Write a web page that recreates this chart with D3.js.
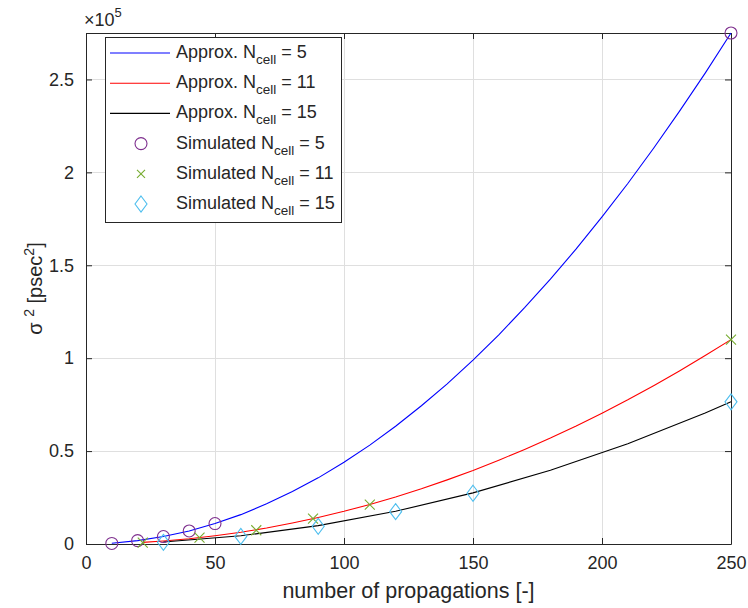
<!DOCTYPE html>
<html lang="en">
<head>
<meta charset="UTF-8">
<title>sigma squared vs propagations</title>
<script src="https://d3js.org/d3.v7.min.js"></script>
<style>
  body { margin: 0; background: #fff; }
  text { font-family: "Liberation Sans", Arial, sans-serif; fill: #262626; }
</style>
</head>
<body>
<svg width="748" height="608"></svg>
<script>
// tick values / labels
var xTicks = [0, 50, 100, 150, 200, 250];
var yTicks = [0, 50000, 100000, 150000, 200000, 250000];
var yTickLabels = ["0", "0.5", "1", "1.5", "2", "2.5"];

// approximation curves
var approxX5 = [10, 20, 30, 40, 50, 60, 70, 80, 90, 100, 110, 120, 130, 140, 150, 160, 170, 180, 190, 200, 210, 220, 230, 240, 250];
var approxY5 = [400, 1800, 4000, 7000, 11000, 15800, 21600, 28200, 35600, 44000, 53200, 63400, 74400, 86200, 99000, 112600, 127200, 142600, 158800, 176000, 194000, 213000, 232800, 253400, 275000];
var approxX11 = [22, 30, 40, 50, 60, 70, 80, 90, 100, 110, 120, 130, 140, 150, 160, 170, 180, 190, 200, 210, 220, 230, 240, 250];
var approxY11 = [850, 1600, 2800, 4400, 6300, 8600, 11300, 14300, 17600, 21300, 25300, 29700, 34500, 39600, 45100, 50900, 57000, 63500, 70400, 77600, 85200, 93100, 101400, 110000];
var approxX15 = [30, 60, 90, 120, 150, 180, 210, 240, 250];
var approxY15 = [1100, 4400, 9900, 17600, 27500, 39700, 54000, 70500, 76500];

// simulated points
var simX5 = [10, 20, 30, 40, 50, 250];
var simY5 = [300, 1800, 4000, 7000, 11000, 275000];
var simX11 = [22, 44, 66, 88, 110, 250];
var simY11 = [700, 3400, 7400, 13700, 21200, 110000];
var simX15 = [30, 60, 90, 120, 150, 250];
var simY15 = [900, 4100, 9500, 17400, 27300, 76500];

var legendLabels = [
  ["Approx. N", "cell", " = 5"],
  ["Approx. N", "cell", " = 11"],
  ["Approx. N", "cell", " = 15"],
  ["Simulated N", "cell", " = 5"],
  ["Simulated N", "cell", " = 11"],
  ["Simulated N", "cell", " = 15"]
];

var svg = d3.select("svg");
var plotL = 86, plotR = 731, plotT = 33, plotB = 544;

var x = d3.scaleLinear().domain([0, 250]).range([plotL, plotR]);
var y = d3.scaleLinear().domain([0, 275000]).range([plotB, plotT]);

// grid
var grid = svg.append("g").attr("stroke", "#dfdfdf").attr("stroke-width", 1);
grid.selectAll(".gx").data(xTicks.slice(1, -1)).enter().append("line")
  .attr("x1", d => x(d) + 0.5).attr("x2", d => x(d) + 0.5)
  .attr("y1", plotT).attr("y2", plotB);
grid.selectAll(".gy").data(yTicks.slice(1)).enter().append("line")
  .attr("x1", plotL).attr("x2", plotR)
  .attr("y1", d => Math.round(y(d)) + 0.5).attr("y2", d => Math.round(y(d)) + 0.5);

// axes (box with ticks on all four sides)
function styleAxis(g) {
  g.select(".domain").attr("stroke", "#262626");
  g.selectAll(".tick line").attr("stroke", "#262626");
  g.selectAll(".tick text").style("font-size", "18px").attr("fill", "#262626");
}
svg.append("g").attr("transform", "translate(0," + plotB + ")")
  .call(d3.axisBottom(x).tickValues(xTicks).tickSizeInner(-6).tickSizeOuter(0).tickPadding(12))
  .call(styleAxis);
svg.append("g").attr("transform", "translate(0," + plotT + ")")
  .call(d3.axisTop(x).tickValues(xTicks).tickSizeInner(-6).tickSizeOuter(0).tickFormat(""))
  .call(styleAxis);
svg.append("g").attr("transform", "translate(" + plotL + ",0)")
  .call(d3.axisLeft(y).tickValues(yTicks).tickSizeInner(-6).tickSizeOuter(0).tickPadding(12)
    .tickFormat((d, i) => yTickLabels[i]))
  .call(styleAxis);
svg.append("g").attr("transform", "translate(" + plotR + ",0)")
  .call(d3.axisRight(y).tickValues(yTicks).tickSizeInner(-6).tickSizeOuter(0).tickFormat(""))
  .call(styleAxis);

// exponent label
var ex = svg.append("text").attr("x", 84).attr("y", 26).style("font-size", "18px");
ex.append("tspan").text("\u00d710");
ex.append("tspan").attr("dy", -9).style("font-size", "13px").text("5");

// lines
var line = d3.line().x(d => x(d[0])).y(d => y(d[1]));
var curves = [
  [approxX5, approxY5, "#0000ff"],
  [approxX11, approxY11, "#ff0000"],
  [approxX15, approxY15, "#000000"]
];
curves.forEach(function(c) {
  svg.append("path")
    .datum(d3.zip(c[0], c[1]))
    .attr("fill", "none").attr("stroke", c[2]).attr("stroke-width", 1.1)
    .attr("d", line);
});

// markers
svg.append("g").selectAll("circle").data(d3.zip(simX5, simY5)).enter().append("circle")
  .attr("cx", d => x(d[0])).attr("cy", d => y(d[1])).attr("r", 6)
  .attr("fill", "none").attr("stroke", "#7e2f8e").attr("stroke-width", 1.1);
svg.append("g").selectAll("path").data(d3.zip(simX11, simY11)).enter().append("path")
  .attr("transform", d => "translate(" + x(d[0]) + "," + y(d[1]) + ")")
  .attr("d", "M-5,-5L5,5M-5,5L5,-5")
  .attr("fill", "none").attr("stroke", "#77ac30").attr("stroke-width", 1.1);
svg.append("g").selectAll("path").data(d3.zip(simX15, simY15)).enter().append("path")
  .attr("transform", d => "translate(" + x(d[0]) + "," + y(d[1]) + ")")
  .attr("d", "M0,-8L6,0L0,8L-6,0Z")
  .attr("fill", "none").attr("stroke", "#4dbeee").attr("stroke-width", 1.1);

// axis labels
svg.append("text").attr("x", (plotL + plotR) / 2).attr("y", 598)
  .attr("text-anchor", "middle").style("font-size", "21.5px")
  .text("number of propagations [-]");
var yl = svg.append("text").attr("transform", "translate(42," + ((plotT + plotB) / 2) + ") rotate(-90)")
  .attr("text-anchor", "middle").style("font-size", "20px");
yl.append("tspan").text("\u03c3 ");
yl.append("tspan").attr("dy", -8).style("font-size", "14px").text("2");
yl.append("tspan").attr("dy", 8).text(" [psec");
yl.append("tspan").attr("dy", -8).style("font-size", "14px").text("2");
yl.append("tspan").attr("dy", 8).text("]");

// legend
var lg = svg.append("g");
lg.append("rect").attr("x", 105.5).attr("y", 37.5).attr("width", 236).attr("height", 185)
  .attr("fill", "#fff").attr("stroke", "#262626").attr("stroke-width", 1);
var rowY = d3.scalePoint().domain(d3.range(6)).range([53, 204]);
var colors = ["#0000ff", "#ff0000", "#000000"];
legendLabels.forEach(function(lab, i) {
  var cy = rowY(i);
  if (i < 3) {
    lg.append("line").attr("x1", 110).attr("x2", 170).attr("y1", cy).attr("y2", cy)
      .attr("stroke", colors[i]).attr("stroke-width", 1.1);
  } else if (i === 3) {
    lg.append("circle").attr("cx", 141).attr("cy", cy).attr("r", 6)
      .attr("fill", "none").attr("stroke", "#7e2f8e").attr("stroke-width", 1.1);
  } else if (i === 4) {
    lg.append("path").attr("transform", "translate(141," + cy + ")").attr("d", "M-4,-4L4,4M-4,4L4,-4")
      .attr("fill", "none").attr("stroke", "#77ac30").attr("stroke-width", 1.1);
  } else {
    lg.append("path").attr("transform", "translate(141," + cy + ")").attr("d", "M0,-8L6,0L0,8L-6,0Z")
      .attr("fill", "none").attr("stroke", "#4dbeee").attr("stroke-width", 1.1);
  }
  var t = lg.append("text").attr("x", 176).attr("y", cy + 5).style("font-size", "18px");
  t.append("tspan").text(lab[0]);
  t.append("tspan").attr("dy", 6).style("font-size", "13.5px").text(lab[1]);
  t.append("tspan").attr("dy", -6).text(lab[2]);
});
</script>
</body>
</html>
